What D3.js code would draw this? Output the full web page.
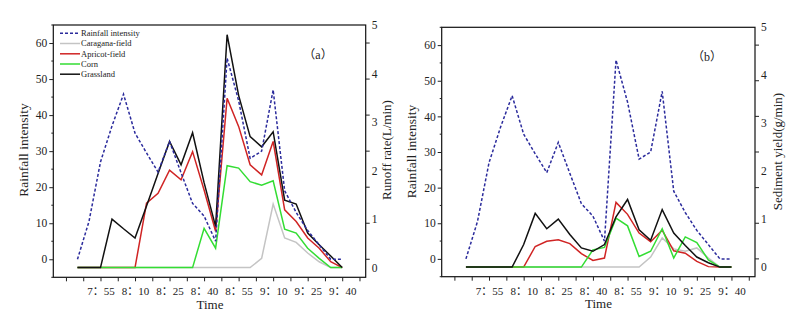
<!DOCTYPE html>
<html><head><meta charset="utf-8">
<script src="https://cdn.jsdelivr.net/npm/d3@7"></script>
<style>
body{margin:0;background:#fff}
svg{display:block}
text{font-family:"Liberation Serif","Times New Roman","Noto Sans CJK SC",serif;fill:#222}
</style>
</head><body>
<svg id="chart" width="809" height="319"></svg>
<script>
// ---- data ----
const times = ["7:45","7:50","7:55","8:00","8:05","8:10","8:15","8:20","8:25","8:30","8:35","8:40",
               "8:45","8:50","8:55","9:00","9:05","9:10","9:15","9:20","9:25","9:30","9:35","9:40"];
const rainfall = [0,10.5,27,37,45.8,35,29.5,24.2,32.7,24,15.5,12,5,55.8,44,28,30,47,19,13,8,4,0,0];

// panel (a) runoff rate (L/min)
const runoffCaragana = [0,0,0,0,0,0,0,0,0,0,0,0,0,0,0,0,0.19,1.31,0.61,0.52,0.3,0.12,0,0];
const runoffApricot  = [0,0,0,0,0,0,1.33,1.53,2.01,1.81,2.39,1.6,0.75,3.49,2.91,2.12,1.91,2.6,1.19,0.95,0.61,0.4,0.12,0];
const runoffCorn     = [0,0,0,0,0,0,0,0,0,0,0,0.81,0.4,2.1,2.05,1.77,1.7,1.79,0.79,0.71,0.4,0.19,0,0];
const runoffGrass    = [0,0,0,1.0,0.8,0.61,1.27,1.94,2.6,2.12,2.78,1.75,0.85,4.8,3.55,2.7,2.49,2.8,1.39,1.31,0.71,0.47,0.24,0];

// panel (b) sediment yield (g/min)
const sedCaragana = [0,0,0,0,0,0,0,0,0,0,0,0,0,0,0,0,0.21,0.61,0.38,0.33,0.4,0.19,0,0];
const sedApricot  = [0,0,0,0,0,0,0.43,0.54,0.57,0.49,0.28,0.14,0.19,1.35,1.1,0.71,0.53,0.77,0.34,0.29,0.12,0.01,0,0];
const sedCorn     = [0,0,0,0,0,0,0,0,0,0,0,0.36,0.41,1.02,0.86,0.22,0.33,0.8,0.19,0.63,0.51,0.15,0,0];
const sedGrass    = [0,0,0,0,0,0.47,1.12,0.8,1.0,0.68,0.4,0.33,0.47,1.05,1.41,0.78,0.56,1.2,0.71,0.45,0.21,0.09,0,0];

const seriesNames = ["Rainfall intensity","Caragana-field","Apricot-field","Corn","Grassland"];
const xTickLabels = ["7：55","8：10","8：25","8：40","8：55","9：10","9：25","9：40"];
const leftTicks = [0,10,20,30,40,50,60];
const rightTicks = [0,1,2,3,4,5];

// ---- drawing ----
const toMin = t => { const [h,m] = t.split(":").map(Number); return h*60+m; };
const mins = times.map(toMin);
const labelMins = xTickLabels.map(s => toMin(s.replace("：",":")));

const styles = {
  rain:  {stroke:"#2b2b9c", width:1.5, dash:"3,2"},
  car:   {stroke:"#c4c4c4", width:1.5},
  apr:   {stroke:"#d02424", width:1.5},
  corn:  {stroke:"#33dd33", width:1.5},
  grass: {stroke:"#111111", width:1.5}
};

const panels = [
  {x0:53.3, x1:365.7, y0:25, y1:277.3, tag:"（a）", tagX:318, tagY:55,
   leftTitleX:23, rightTitle:"Runoff rate(L/min)", rightTitleX:386.5, titleY:150, timeX:210, timeY:304,
   data:[runoffCaragana, runoffApricot, runoffCorn, runoffGrass], legend:true},
  {x0:441.7, x1:755, y0:27.3, y1:276.7, tag:"（b）", tagX:707, tagY:56.5,
   leftTitleX:411, rightTitle:"Sediment yield(g/min)", rightTitleX:777, titleY:151.5, timeX:598.5, timeY:303,
   data:[sedCaragana, sedApricot, sedCorn, sedGrass], legend:false}
];

const svg = d3.select("#chart");

panels.forEach(p => {
  const g = svg.append("g");
  const x = d3.scaleLinear().domain([454.5, 590.2]).range([p.x0, p.x1]);
  const yL = d3.scaleLinear().domain([-5, 65]).range([p.y1, p.y0]);
  const yR = d3.scaleLinear().domain([-0.2, 5]).range([p.y1, p.y0]);

  // series lines (order: caragana, apricot, corn, grassland, then rainfall)
  const lineR = d3.line().x((d,i)=>x(mins[i])).y(d=>yR(d));
  const keys = ["car","apr","corn","grass"];
  p.data.forEach((arr,k) => {
    const s = styles[keys[k]];
    g.append("path").datum(arr).attr("d", lineR).attr("fill","none")
      .attr("stroke", s.stroke).attr("stroke-width", s.width).attr("stroke-linejoin","miter");
  });
  const lineL = d3.line().x((d,i)=>x(mins[i])).y(d=>yL(d));
  g.append("path").datum(rainfall).attr("d", lineL).attr("fill","none")
    .attr("stroke", styles.rain.stroke).attr("stroke-width", styles.rain.width)
    .attr("stroke-dasharray", styles.rain.dash);

  // frame
  g.append("rect").attr("x", p.x0).attr("y", p.y0).attr("width", p.x1-p.x0).attr("height", p.y1-p.y0)
    .attr("fill","none").attr("stroke","#111").attr("stroke-width",1.2);

  // bottom axis
  const bt = d3.range(460, 588, 7.5);
  const ax = g.append("g").attr("transform", `translate(0,${p.y1})`)
    .call(d3.axisBottom(x).tickValues(bt).tickSize(4)
      .tickFormat(d => { const i = labelMins.indexOf(d); return i >= 0 ? xTickLabels[i] : ""; }));
  ax.select(".domain").remove();
  ax.selectAll("line").attr("stroke","#222");
  ax.selectAll("text").attr("y", 14).attr("dy","0.35em").style("font-size","11px");

  // left axis
  const al = g.append("g").attr("transform", `translate(${p.x0},0)`)
    .call(d3.axisLeft(yL).tickValues(leftTicks).tickSize(4).tickPadding(2));
  al.select(".domain").remove();
  al.selectAll("line").attr("stroke","#222");
  al.selectAll("text").style("font-size","11.5px");
  g.selectAll(".minorL").data(d3.range(-5, 66, 10)).join("line")
    .attr("x1", p.x0-2).attr("x2", p.x0).attr("y1", d=>yL(d)).attr("y2", d=>yL(d)).attr("stroke","#222");

  // right axis: tick marks at left-axis positions, labels from right scale
  g.selectAll(".tickR").data(leftTicks).join("line")
    .attr("x1", p.x1).attr("x2", p.x1+4).attr("y1", d=>yL(d)).attr("y2", d=>yL(d)).attr("stroke","#222");
  g.selectAll(".lblR").data(rightTicks).join("text")
    .attr("x", p.x1+6).attr("y", d=>yR(d)).attr("dy","0.35em").style("font-size","11.5px").text(d=>d);

  // titles
  g.append("text").attr("x", p.timeX).attr("y", p.timeY).attr("text-anchor","middle")
    .attr("dy","0.35em").style("font-size","13px").text("Time");
  g.append("text").attr("transform", `translate(${p.leftTitleX},${p.titleY}) rotate(-90)`)
    .attr("text-anchor","middle").attr("dy","0.35em").style("font-size","13.5px").text("Rainfall intensity");
  g.append("text").attr("transform", `translate(${p.rightTitleX},${p.titleY}) rotate(-90)`)
    .attr("text-anchor","middle").attr("dy","0.35em").style("font-size","13px").text(p.rightTitle);
  g.append("text").attr("x", p.tagX).attr("y", p.tagY).attr("text-anchor","middle")
    .attr("dy","0.35em").style("font-size","12px").text(p.tag);

  if (p.legend) {
    const lg = ["rain","car","apr","corn","grass"];
    const rows = [33.3, 43.5, 53.8, 64, 74.2];
    lg.forEach((k,i) => {
      const s = styles[k];
      g.append("line").attr("x1", 60).attr("x2", 80).attr("y1", rows[i]).attr("y2", rows[i])
        .attr("stroke", s.stroke).attr("stroke-width", s.width).attr("stroke-dasharray", s.dash || null);
      g.append("text").attr("x", 81).attr("y", rows[i]).attr("dy","0.35em")
        .style("font-size","8.5px").text(seriesNames[i]);
    });
  }
});
</script>
</body></html>
